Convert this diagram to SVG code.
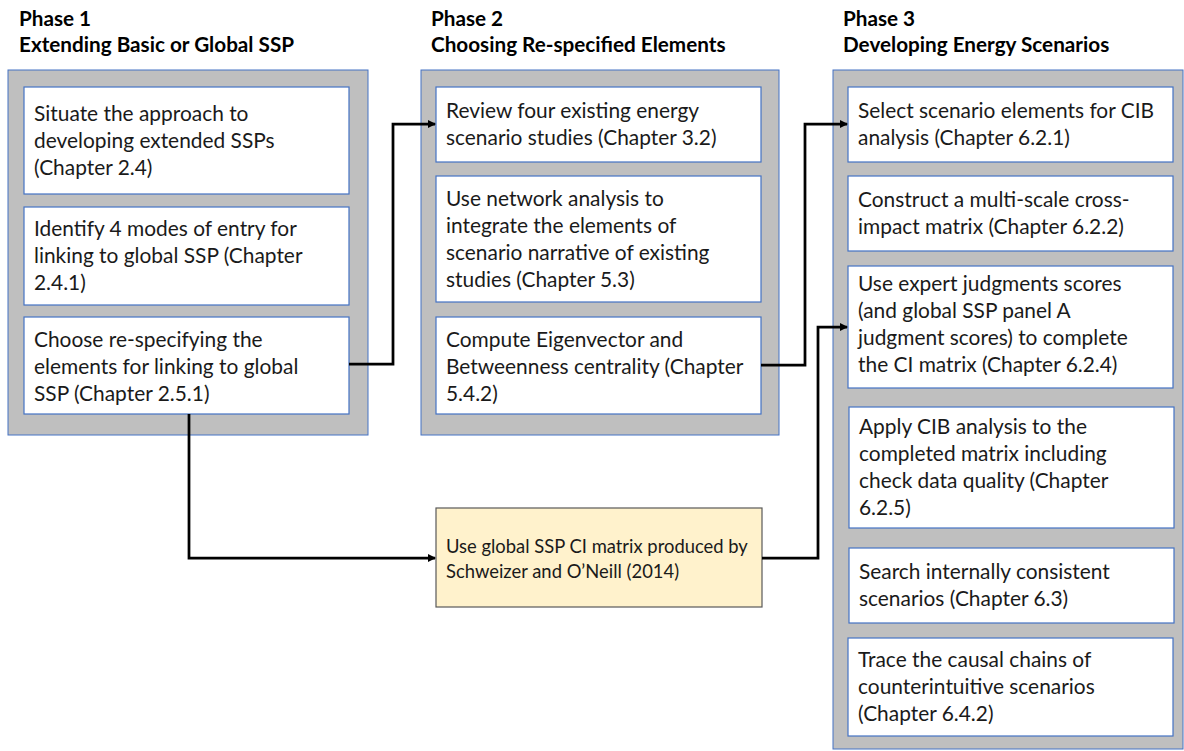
<svg xmlns="http://www.w3.org/2000/svg" width="1184" height="751" viewBox="0 0 1184 751">
  <style>
    .panel { fill: #BFBFBF; stroke: #4472C4; stroke-width: 1; }
    .step { fill: #FFFFFF; stroke: #4472C4; stroke-width: 1.2; }
    .source { fill: #FFF2CC; stroke: #595959; stroke-width: 1.2; }
    .head { font-family: Lato, "Liberation Sans", sans-serif; font-weight: bold; font-size: 20.7px; fill: #000000; }
    .txt { font-family: Lato, "Liberation Sans", sans-serif; font-size: 20.9px; fill: #1a1a1a; }
    .small { font-family: Lato, "Liberation Sans", sans-serif; font-size: 18.4px; fill: #1a1a1a; }
    .link { fill: none; stroke: #000000; stroke-width: 2.75; stroke-linejoin: miter; }
  </style>
  <defs>
    <marker id="arrow" markerWidth="8" markerHeight="8" refX="7" refY="4" orient="auto" markerUnits="userSpaceOnUse">
      <path d="M0,0 L8,4 L0,8 Z" fill="#000000"/>
    </marker>
  </defs>

  <rect width="1184" height="751" fill="#FFFFFF"/>

  <!-- Phase 1 -->
  <g id="phase1">
    <text class="head" x="19" y="26">Phase 1</text>
    <text class="head" x="19" y="52">Extending Basic or Global SSP</text>
    <rect class="panel" x="8" y="70" width="360" height="365"/>
  </g>
  <g id="p1-situate">
    <rect class="step" x="24" y="87" width="325" height="107"/>
    <text class="txt" x="34" y="121">Situate the approach to</text>
    <text class="txt" x="34" y="148">developing extended SSPs</text>
    <text class="txt" x="34" y="175">(Chapter 2.4)</text>
  </g>
  <g id="p1-identify">
    <rect class="step" x="24" y="207" width="325" height="98"/>
    <text class="txt" x="34" y="236">Identify 4 modes of entry for</text>
    <text class="txt" x="34" y="263">linking to global SSP (Chapter</text>
    <text class="txt" x="34" y="290">2.4.1)</text>
  </g>
  <g id="p1-choose">
    <rect class="step" x="24" y="317" width="325" height="97"/>
    <text class="txt" x="34" y="347">Choose re-specifying the</text>
    <text class="txt" x="34" y="374">elements for linking to global</text>
    <text class="txt" x="34" y="401">SSP (Chapter 2.5.1)</text>
  </g>

  <!-- Phase 2 -->
  <g id="phase2">
    <text class="head" x="431" y="26">Phase 2</text>
    <text class="head" x="431" y="52">Choosing Re-specified Elements</text>
    <rect class="panel" x="421" y="70" width="358" height="365"/>
  </g>
  <g id="p2-review">
    <rect class="step" x="436" y="87" width="325" height="75"/>
    <text class="txt" x="446" y="118">Review four existing energy</text>
    <text class="txt" x="446" y="145">scenario studies (Chapter 3.2)</text>
  </g>
  <g id="p2-network">
    <rect class="step" x="436" y="176" width="325" height="126"/>
    <text class="txt" x="446" y="206">Use network analysis to</text>
    <text class="txt" x="446" y="233">integrate the elements of</text>
    <text class="txt" x="446" y="260">scenario narrative of existing</text>
    <text class="txt" x="446" y="287">studies (Chapter 5.3)</text>
  </g>
  <g id="p2-centrality">
    <rect class="step" x="436" y="317" width="325" height="97"/>
    <text class="txt" x="446" y="347">Compute Eigenvector and</text>
    <text class="txt" x="446" y="374">Betweenness centrality (Chapter</text>
    <text class="txt" x="446" y="401">5.4.2)</text>
  </g>

  <!-- Phase 3 -->
  <g id="phase3">
    <text class="head" x="843" y="26">Phase 3</text>
    <text class="head" x="843" y="52">Developing Energy Scenarios</text>
    <rect class="panel" x="833" y="70" width="350" height="679"/>
  </g>
  <g id="p3-select">
    <rect class="step" x="848" y="87" width="325" height="75"/>
    <text class="txt" x="858" y="118">Select scenario elements for CIB</text>
    <text class="txt" x="858" y="145">analysis (Chapter 6.2.1)</text>
  </g>
  <g id="p3-construct">
    <rect class="step" x="848" y="176" width="325" height="75"/>
    <text class="txt" x="858" y="207">Construct a multi-scale cross-</text>
    <text class="txt" x="858" y="234">impact matrix (Chapter 6.2.2)</text>
  </g>
  <g id="p3-expert">
    <rect class="step" x="848" y="266" width="325" height="122"/>
    <text class="txt" x="858" y="291">Use expert judgments scores</text>
    <text class="txt" x="858" y="318">(and global SSP panel A</text>
    <text class="txt" x="858" y="345">judgment scores) to complete</text>
    <text class="txt" x="858" y="372">the CI matrix (Chapter 6.2.4)</text>
  </g>
  <g id="p3-apply">
    <rect class="step" x="849" y="407" width="325" height="121"/>
    <text class="txt" x="859" y="434">Apply CIB analysis to the</text>
    <text class="txt" x="859" y="461">completed matrix including</text>
    <text class="txt" x="859" y="488">check data quality (Chapter</text>
    <text class="txt" x="859" y="515">6.2.5)</text>
  </g>
  <g id="p3-search">
    <rect class="step" x="849" y="548" width="325" height="75"/>
    <text class="txt" x="859" y="579">Search internally consistent</text>
    <text class="txt" x="859" y="606">scenarios (Chapter 6.3)</text>
  </g>
  <g id="p3-trace">
    <rect class="step" x="848" y="638" width="325" height="98"/>
    <text class="txt" x="858" y="667">Trace the causal chains of</text>
    <text class="txt" x="858" y="694">counterintuitive scenarios</text>
    <text class="txt" x="858" y="721">(Chapter 6.4.2)</text>
  </g>

  <!-- External input -->
  <g id="global-ci-matrix">
    <rect class="source" x="436" y="508" width="326" height="99"/>
    <text class="small" x="446" y="553">Use global SSP CI matrix produced by</text>
    <text class="small" x="446" y="578">Schweizer and O’Neill (2014)</text>
  </g>

  <!-- Connectors -->
  <g id="connectors">
    <polyline class="link" points="349,364 393,364 393,124 435,124" marker-end="url(#arrow)"/>
    <polyline class="link" points="761,365 805,365 805,124 847,124" marker-end="url(#arrow)"/>
    <polyline class="link" points="189,414 189,558 435,558" marker-end="url(#arrow)"/>
    <polyline class="link" points="762,558 818,558 818,327 847,327" marker-end="url(#arrow)"/>
  </g>
</svg>
